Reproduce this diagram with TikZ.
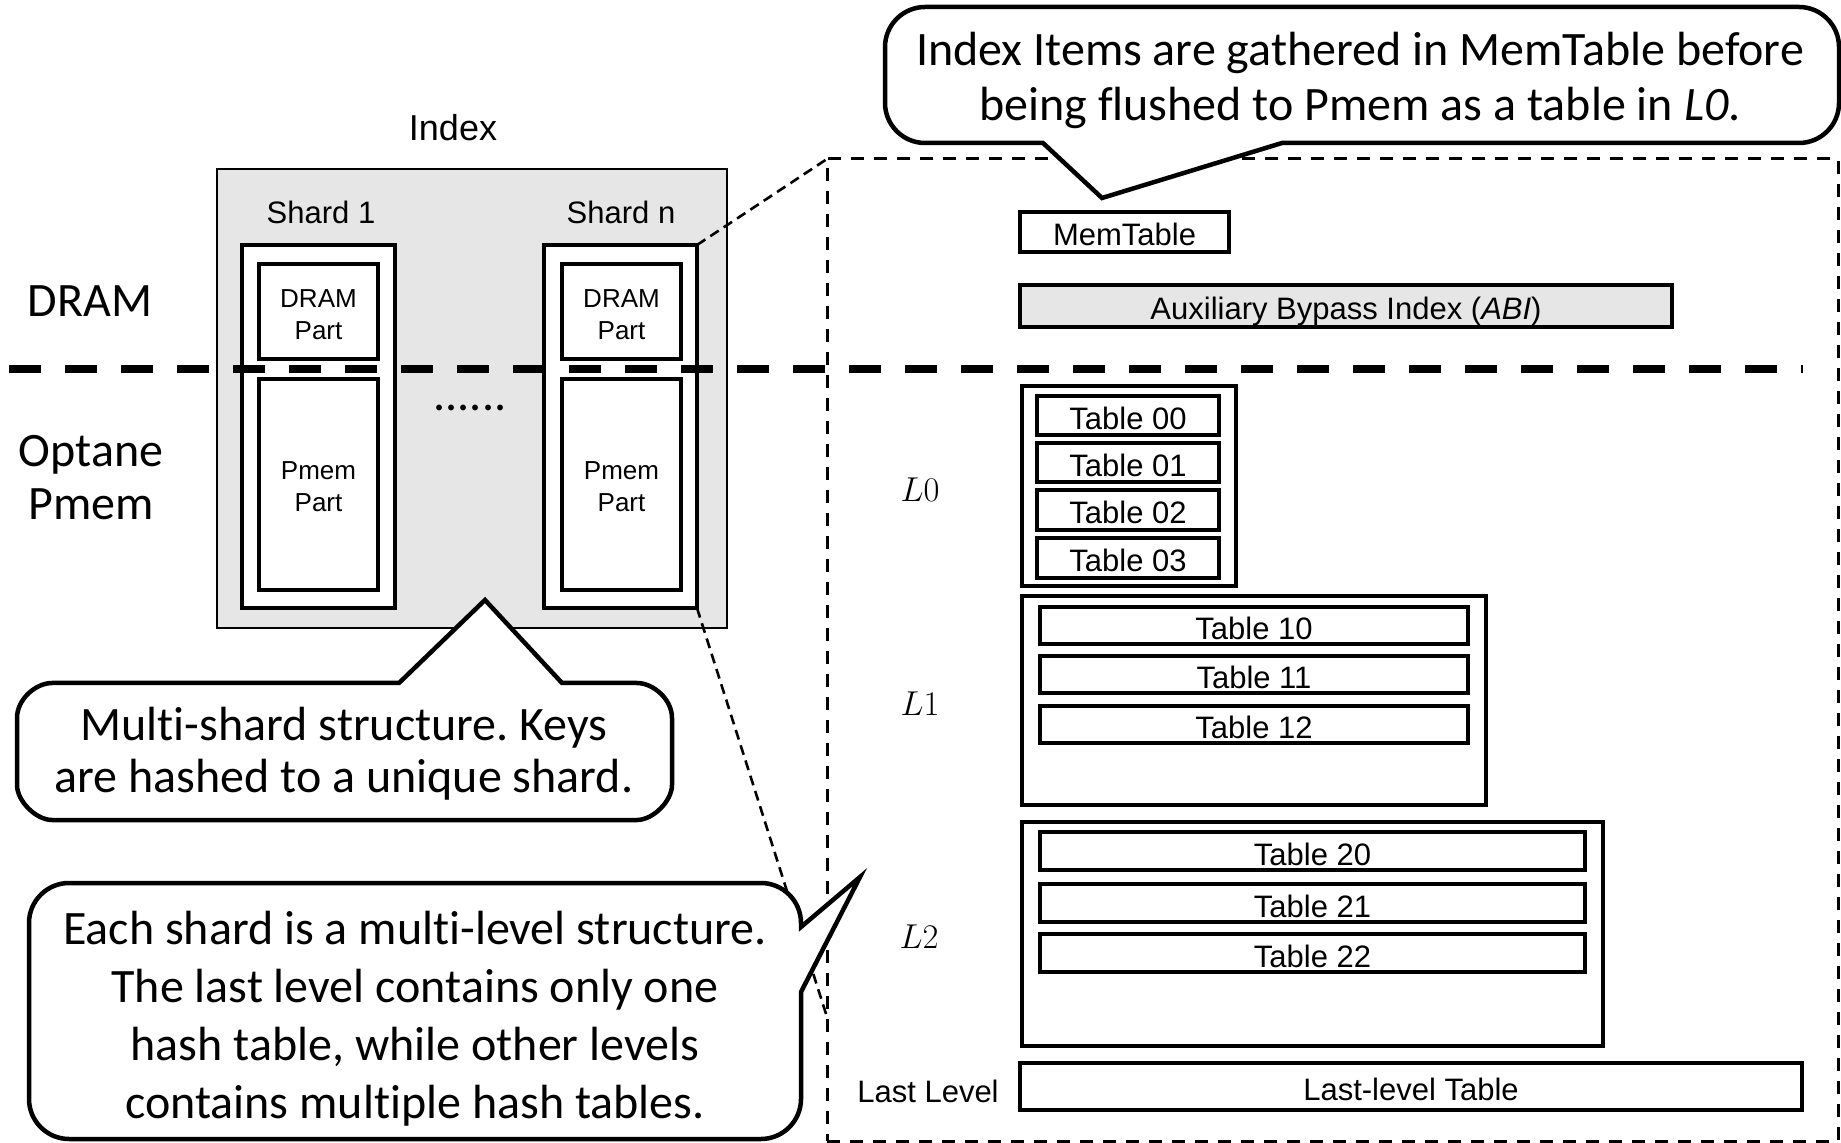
\documentclass[tikz,border=0pt]{standalone}
\usepackage{fontspec}
\setmainfont{Liberation Sans}
\newfontfamily\calibri[Ligatures=NoCommon]{Carlito}
\frenchspacing
\definecolor{panelgray}{RGB}{230,230,230}
\tikzset{
  arialtxt/.style={font=\fontsize{15.5}{18.6}\selectfont},
  titletxt/.style={font=\fontsize{18}{21}\selectfont},
  smalltxt/.style={font=\fontsize{13}{16}\selectfont, align=center},
  calitxt/.style={font=\calibri\fontsize{24}{#1}\selectfont, align=center},
  calitxt/.default=28,
  mathlbl/.style={font=\fontsize{17}{20}\selectfont},
  boxfit/.style={draw, inner sep=0pt, outer sep=0pt},
  tblbox/.style={boxfit, line width=1.75pt, arialtxt, text height=14pt, text depth=0pt},
  levelbox/.style={boxfit, line width=1.75pt},
  shardbox/.style={boxfit, line width=2pt, fill=white},
  partbox/.style={boxfit, line width=2pt, fill=white},
  panel/.style={boxfit, line width=1pt, fill=panelgray},
  zoomframe/.style={boxfit, line width=1.5pt, dash pattern=on 6.5pt off 5pt},
  linkline/.style={line width=1.3pt, dash pattern=on 5pt off 3pt},
  divider/.style={line width=4pt, dash pattern=on 16pt off 12pt},
  bubble/.style={draw, line width=2.25pt, fill=white, line join=miter},
}
% rectangle node given by its style, name, two opposite corners and its text
\newcommand\boxat[7]{%
  \node[#1, minimum width={(#5-(#3))*0.5pt}, minimum height={(#6-(#4))*0.5pt}]
    (#2) at ({(#3+#5)/2},{(#4+#6)/2}) {#7};}
\begin{document}
\begin{tikzpicture}[x=0.5pt,y=-0.5pt]
\useasboundingbox (0,0) rectangle (1841,1143);

% memory tier labels
\node[calitxt] (tierDram) at (90,301) {DRAM};
\node[calitxt=26.5] (tierPmem) at (91,478) {Optane\\Pmem};

% index panel with its shards
\boxat{panel}{panel}{217}{169}{727}{628}{}
\node[titletxt] (indexLbl) at (453,128) {Index};
\node[arialtxt] (shardOneLbl) at (321,212) {Shard 1};
\node[arialtxt] (shardNLbl) at (621,212) {Shard n};

\boxat{shardbox}{shardOne}{242}{245}{395}{608}{}
\boxat{partbox}{dramOne}{259}{264}{378}{359}{}
\boxat{partbox}{pmemOne}{259}{379}{378}{590}{}
\node[smalltxt] (dramOneTxt) at ([yshift=-1.7pt]dramOne.center) {DRAM\\Part};
\node[smalltxt] (pmemOneTxt) at ([yshift=-1.3pt]pmemOne.center) {Pmem\\Part};

\boxat{shardbox}{shardN}{544}{245}{697}{608}{}
\boxat{partbox}{dramN}{562}{264}{681}{359}{}
\boxat{partbox}{pmemN}{562}{379}{681}{590}{}
\node[smalltxt] (dramNTxt) at ([yshift=-1.7pt]dramN.center) {DRAM\\Part};
\node[smalltxt] (pmemNTxt) at ([yshift=-1.3pt]pmemN.center) {Pmem\\Part};

\node[calitxt, anchor=base] (dots) at (470,411) {......};

% expanded view of one shard
\boxat{zoomframe}{shardView}{827}{159}{1838}{1141}{}

\boxat{tblbox}{memtable}{1020}{212}{1229}{252}{MemTable}
\boxat{tblbox, fill=panelgray}{abi}{1020}{285}{1672}{327}{Auxiliary Bypass Index (\textit{ABI})}

% level 0
\boxat{levelbox}{levelZero}{1022}{386}{1236}{586}{}
\boxat{tblbox}{t00}{1037}{396}{1219}{435}{Table 00}
\boxat{tblbox}{t01}{1037}{443}{1219}{482}{Table 01}
\boxat{tblbox}{t02}{1037}{490}{1219}{530}{Table 02}
\boxat{tblbox}{t03}{1037}{538}{1219}{578}{Table 03}
\node[mathlbl] (lblZero) at (920,490) {$L0$};

% level 1
\boxat{levelbox}{levelOne}{1022}{596}{1486}{805}{}
\boxat{tblbox}{t10}{1040}{607}{1468}{644}{Table 10}
\boxat{tblbox}{t11}{1040}{656}{1468}{693}{Table 11}
\boxat{tblbox}{t12}{1040}{706}{1468}{743}{Table 12}
\node[mathlbl] (lblOne) at (920,704) {$L1$};

% level 2
\boxat{levelbox}{levelTwo}{1022}{822}{1603}{1046}{}
\boxat{tblbox}{t20}{1040}{832}{1585}{870}{Table 20}
\boxat{tblbox}{t21}{1040}{884}{1585}{922}{Table 21}
\boxat{tblbox}{t22}{1040}{934}{1585}{972}{Table 22}
\node[mathlbl] (lblTwo) at (919,937) {$L2$};

% last level
\boxat{tblbox}{lastTbl}{1020}{1063}{1802}{1110}{Last-level Table}
\node[arialtxt] (lblLast) at (928,1091) {Last Level};

% DRAM / Pmem boundary
\coordinate (divL) at (9,369);
\coordinate (divR) at (1803,369);
\draw[divider] (divL) -- (divR);

% zoom connectors from shard n
\coordinate (linkEnd) at (827,1017);
\draw[linkline] (shardN.north east) -- (shardView.north west);
\draw[linkline] (shardN.south east) -- (linkEnd);

% callouts
\draw[bubble] (925,7) -- (1799,7) .. controls (1821,7) and (1839,25) .. (1839,47)
  -- (1839,103) .. controls (1839,125) and (1821,143) .. (1799,143)
  -- (1282,143) -- (1102,198) -- (1043,143)
  -- (925,143) .. controls (903,143) and (885,125) .. (885,103)
  -- (885,47) .. controls (885,25) and (903,7) .. (925,7) -- cycle;
\node[calitxt=27.5] (noteMem) at (1360,80) {Index Items are gathered in MemTable before\\being flushed to Pmem as a table in \textit{L0}.};

\draw[bubble] (52,683) -- (399,683) -- (485,600) -- (562,683)
  -- (637,683) .. controls (653,683) and (672,699) .. (672,718)
  -- (672,785) .. controls (672,801) and (653,820) .. (637,820)
  -- (52,820) .. controls (36,820) and (17,801) .. (17,785)
  -- (17,718) .. controls (17,699) and (36,683) .. (52,683) -- cycle;
\node[calitxt=26] (noteShard) at (344,754) {Multi-shard structure. Keys\\are hashed to a unique shard.};

\draw[bubble] (69,883) -- (761,883) .. controls (783,883) and (801,901) .. (801,923)
  -- (801,927) -- (860,877) -- (801,992)
  -- (801,1099) .. controls (801,1121) and (783,1139) .. (761,1139)
  -- (69,1139) .. controls (47,1139) and (29,1121) .. (29,1099)
  -- (29,923) .. controls (29,901) and (47,883) .. (69,883) -- cycle;
\node[calitxt=29] (noteLevel) at (415,1019) {Each shard is a multi-level structure.\\The last level contains only one\\hash table, while other levels\\contains multiple hash tables.};
\end{tikzpicture}
\end{document}
